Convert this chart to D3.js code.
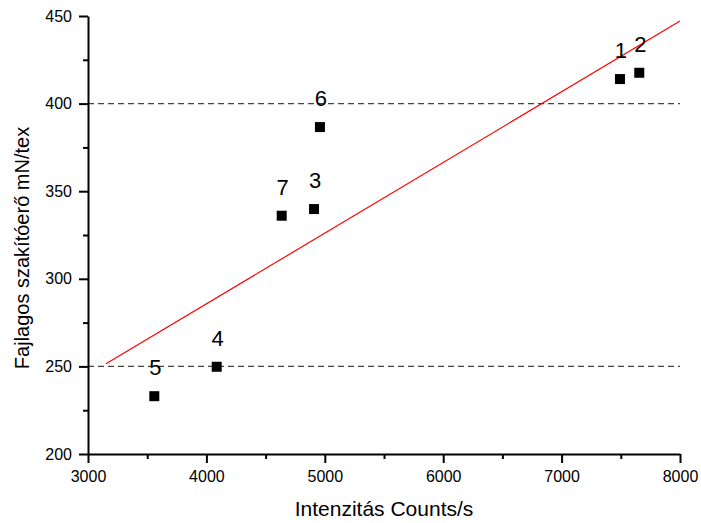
<!DOCTYPE html>
<html>
<head>
<meta charset="utf-8">
<script src="https://cdn.jsdelivr.net/npm/d3@7"></script>
<style>
  html, body { margin: 0; padding: 0; background: #fff; }
  svg { display: block; font-family: "Liberation Sans", Arial, sans-serif; }
</style>
</head>
<body>
<svg id="chart" width="701" height="523"></svg>
<script>
// Sample measurements: intensity (counts/s) vs. specific breaking strength (mN/tex)
const sampleIds   = ["1", "2", "3", "4", "5", "6", "7"];
const intensity   = [7493, 7656, 4909, 4087, 3560, 4959, 4636];
const strength    = [414, 417.6, 339.8, 249.8, 233, 386.6, 336];

// Fitted trend line endpoints
const fitX = [3152, 8000];
const fitY = [251.5, 447.1];

// Horizontal reference levels
const refLevels = [400, 250];

const xTicks = [3000, 4000, 5000, 6000, 7000, 8000];
const yTicks = [200, 250, 300, 350, 400, 450];

const svg = d3.select("#chart");
const plotLeft = 88, plotRight = 680, plotTop = 16, plotBottom = 454;

const x = d3.scaleLinear().domain([3000, 8000]).range([plotLeft, plotRight]);
const y = d3.scaleLinear().domain([200, 450]).range([plotBottom, plotTop]);

// Reference dashed lines
svg.selectAll("line.ref").data(refLevels).join("line")
  .attr("class", "ref")
  .attr("x1", plotLeft).attr("x2", plotRight)
  .attr("y1", d => y(d)).attr("y2", d => y(d))
  .attr("stroke", "#444").attr("stroke-width", 1.3)
  .attr("stroke-dasharray", "6,4");

// Trend line
svg.append("line")
  .attr("x1", x(fitX[0])).attr("y1", y(fitY[0]))
  .attr("x2", x(fitX[1])).attr("y2", y(fitY[1]))
  .attr("stroke", "#ff0000").attr("stroke-width", 1.2);

// Axes with minor ticks
function styleAxis(g) {
  g.select(".domain").attr("stroke", "#000").attr("stroke-width", 2);
  g.selectAll(".tick line").attr("stroke", "#000").attr("stroke-width", 2);
  g.selectAll("text").attr("fill", "#000").style("font-size", "16px")
    .style("font-family", "'Liberation Sans', Arial, sans-serif");
}

const xMinor = d3.range(3000, 8001, 500).filter(v => !xTicks.includes(v));
const yMinor = d3.range(200, 451, 25).filter(v => !yTicks.includes(v));

svg.append("g").attr("transform", `translate(0,${plotBottom})`)
  .call(d3.axisBottom(x).tickValues(xMinor).tickSize(5).tickFormat(""))
  .call(g => { styleAxis(g); g.select(".domain").remove(); });
svg.append("g").attr("transform", `translate(${plotLeft},0)`)
  .call(d3.axisLeft(y).tickValues(yMinor).tickSize(5).tickFormat(""))
  .call(g => { styleAxis(g); g.select(".domain").remove(); });

svg.append("g").attr("transform", `translate(0,${plotBottom})`)
  .call(d3.axisBottom(x).tickValues(xTicks).tickSize(9).tickSizeOuter(0).tickPadding(8).tickFormat(d3.format("d")))
  .call(styleAxis);
svg.append("g").attr("transform", `translate(${plotLeft},0)`)
  .call(d3.axisLeft(y).tickValues(yTicks).tickSize(9).tickSizeOuter(0).tickPadding(7).tickFormat(d3.format("d")))
  .call(styleAxis);

// Data points
const pts = sampleIds.map((id, i) => ({ id, x: intensity[i], y: strength[i] }));
svg.selectAll("rect.pt").data(pts).join("rect")
  .attr("class", "pt")
  .attr("x", d => x(d.x) - 5).attr("y", d => y(d.y) - 5)
  .attr("width", 10).attr("height", 10)
  .attr("fill", "#000");

svg.selectAll("text.lbl").data(pts).join("text")
  .attr("class", "lbl")
  .attr("x", d => x(d.x) + 1).attr("y", d => y(d.y) - 21)
  .attr("text-anchor", "middle")
  .style("font-size", "22px")
  .text(d => d.id);

// Axis titles
svg.append("text")
  .attr("x", (plotLeft + plotRight) / 2).attr("y", 516)
  .attr("text-anchor", "middle")
  .style("font-size", "21px")
  .text("Intenzitás Counts/s");

svg.append("text")
  .attr("transform", "translate(29,248) rotate(-90)")
  .attr("text-anchor", "middle")
  .style("font-size", "20px")
  .text("Fajlagos szakítóerő mN/tex");
</script>
</body>
</html>
